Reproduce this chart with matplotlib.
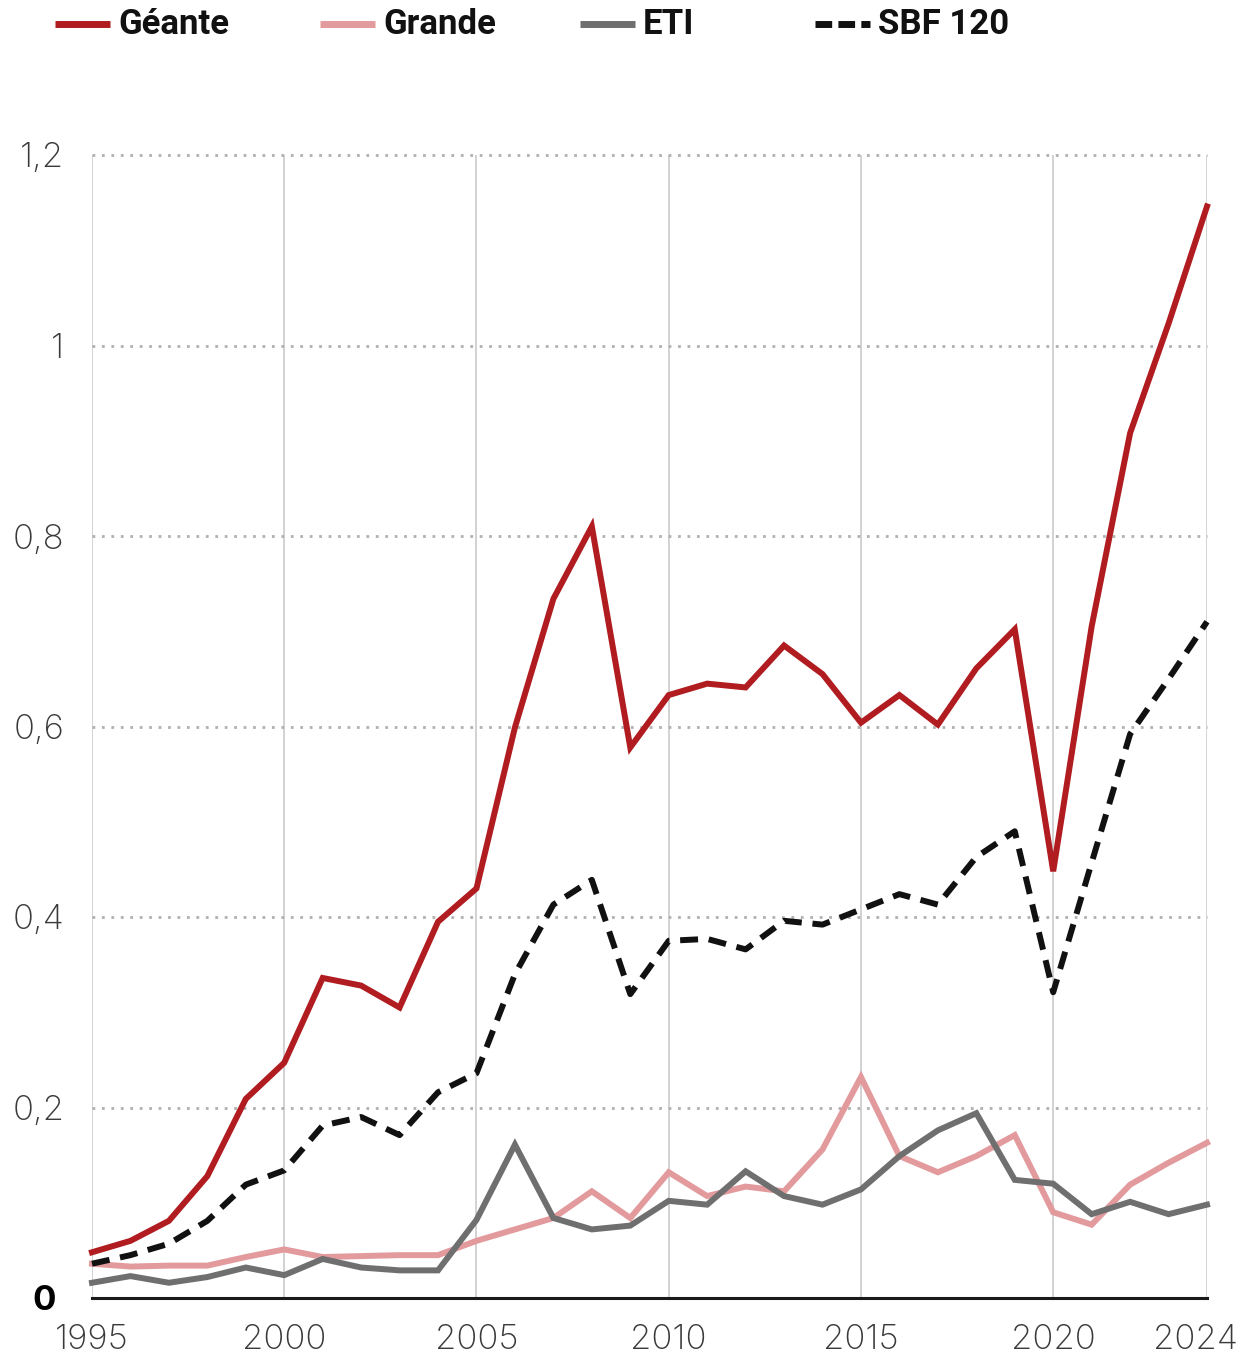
import matplotlib
matplotlib.use("Agg")
import matplotlib.pyplot as plt
from matplotlib.lines import Line2D
import matplotlib.transforms as mtransforms

# Data
years = list(range(1995, 2025))

geante = [0.048, 0.060, 0.081, 0.128, 0.209, 0.247, 0.336, 0.328, 0.305, 0.395,
          0.430, 0.599, 0.734, 0.810, 0.578, 0.633, 0.645, 0.641, 0.685, 0.655,
          0.604, 0.633, 0.602, 0.661, 0.702, 0.448, 0.705, 0.908, 1.023, 1.146]
grande = [0.036, 0.033, 0.034, 0.034, 0.043, 0.051, 0.043, 0.044, 0.045, 0.045,
          0.060, 0.072, 0.084, 0.112, 0.084, 0.132, 0.107, 0.117, 0.112, 0.156,
          0.232, 0.149, 0.132, 0.149, 0.171, 0.090, 0.077, 0.119, 0.142, 0.163]
eti = [0.016, 0.023, 0.016, 0.022, 0.032, 0.024, 0.041, 0.032, 0.029, 0.029,
       0.082, 0.161, 0.084, 0.072, 0.076, 0.102, 0.098, 0.133, 0.107, 0.098,
       0.114, 0.149, 0.176, 0.194, 0.124, 0.120, 0.088, 0.101, 0.088, 0.098]
sbf120 = [0.036, 0.045, 0.057, 0.081, 0.119, 0.134, 0.181, 0.190, 0.171, 0.216,
          0.236, 0.340, 0.413, 0.439, 0.319, 0.375, 0.377, 0.366, 0.396, 0.392,
          0.408, 0.424, 0.413, 0.463, 0.490, 0.321, 0.457, 0.592, 0.650, 0.710]

series_names = ["Géante", "Grande", "ETI", "SBF 120"]
series_values = [geante, grande, eti, sbf120]
series_colors = ["#b01c20", "#e39a9d", "#6f6f6f", "#111111"]

x_ticks = [1995, 2000, 2005, 2010, 2015, 2020, 2024]
y_ticks = [0, 0.2, 0.4, 0.6, 0.8, 1.0, 1.2]
y_labels = ["0", "0,2", "0,4", "0,6", "0,8", "1", "1,2"]

W, H = 1241, 1359
fig = plt.figure(figsize=(W / 100, H / 100), dpi=100)
ax = fig.add_axes([92 / W, 61 / H, (1207 - 92) / W, (1298 - 155) / H])

ax.set_xlim(1995, 2024)
ax.set_ylim(0, 1.2)

# grid: solid vertical, dotted horizontal
for xt in x_ticks:
    ax.axvline(xt, color="#cfcfcf", lw=1.3, zorder=0)
for yt in y_ticks[1:]:
    ax.axhline(yt, color="#b0b0b0", lw=2.0, linestyle=(0, (1.0, 2.4)), zorder=0,
               clip_on=False)
ax.axhline(0, color="#1a1a1a", lw=2.2, zorder=1, clip_on=False)

lw = 4.3
for name, vals, col in zip(series_names, series_values, series_colors):
    ls = (0, (3.0, 1.8)) if name == "SBF 120" else "-"
    ax.plot(years, vals, color=col, lw=lw, linestyle=ls, solid_joinstyle="miter",
            dash_capstyle="butt", zorder=3, clip_on=False)

for s in ax.spines.values():
    s.set_visible(False)

ax.set_xticks(x_ticks)
ax.set_xticklabels([str(x) for x in x_ticks], fontsize=25, color="#3a3a3a",
                   family="Inter", fontweight="light")
ax.set_yticks(y_ticks)
ax.set_yticklabels(y_labels, fontsize=25, color="#3a3a3a", family="Inter",
                   fontweight="light")
ax.tick_params(axis="both", length=0)
ax.tick_params(axis="x", pad=19)
ax.tick_params(axis="y", pad=20)

# the zero label is bold black in the original
zero_lbl = ax.get_yticklabels()[0]
zero_lbl.set_fontweight("bold")
zero_lbl.set_color("#000000")
zero_lbl.set_transform(zero_lbl.get_transform() +
                       mtransforms.ScaledTranslation(-8 / 100, 0, fig.dpi_scale_trans))

# last year label sits right at the edge; nudge it so it stays inside
last_lbl = ax.get_xticklabels()[-1]
last_lbl.set_transform(last_lbl.get_transform() +
                       mtransforms.ScaledTranslation(-12 / 100, 0, fig.dpi_scale_trans))

# legend drawn by hand along the top
leg_x = [55, 320, 580, 815]
leg_y = 1 - 24 / H
for name, col, x0 in zip(series_names, series_colors, leg_x):
    ls = (0, (2.4, 0.9)) if name == "SBF 120" else "-"
    ln = Line2D([x0 / W, (x0 + 55) / W], [leg_y, leg_y], transform=fig.transFigure,
                color=col, lw=5, linestyle=ls, solid_capstyle="butt",
                dash_capstyle="butt")
    fig.add_artist(ln)
    fig.text((x0 + 63) / W, leg_y, name, fontsize=25, fontweight="bold",
             family="Roboto", color="#111111", va="center", ha="left")

fig.savefig("out.png", dpi=100)
